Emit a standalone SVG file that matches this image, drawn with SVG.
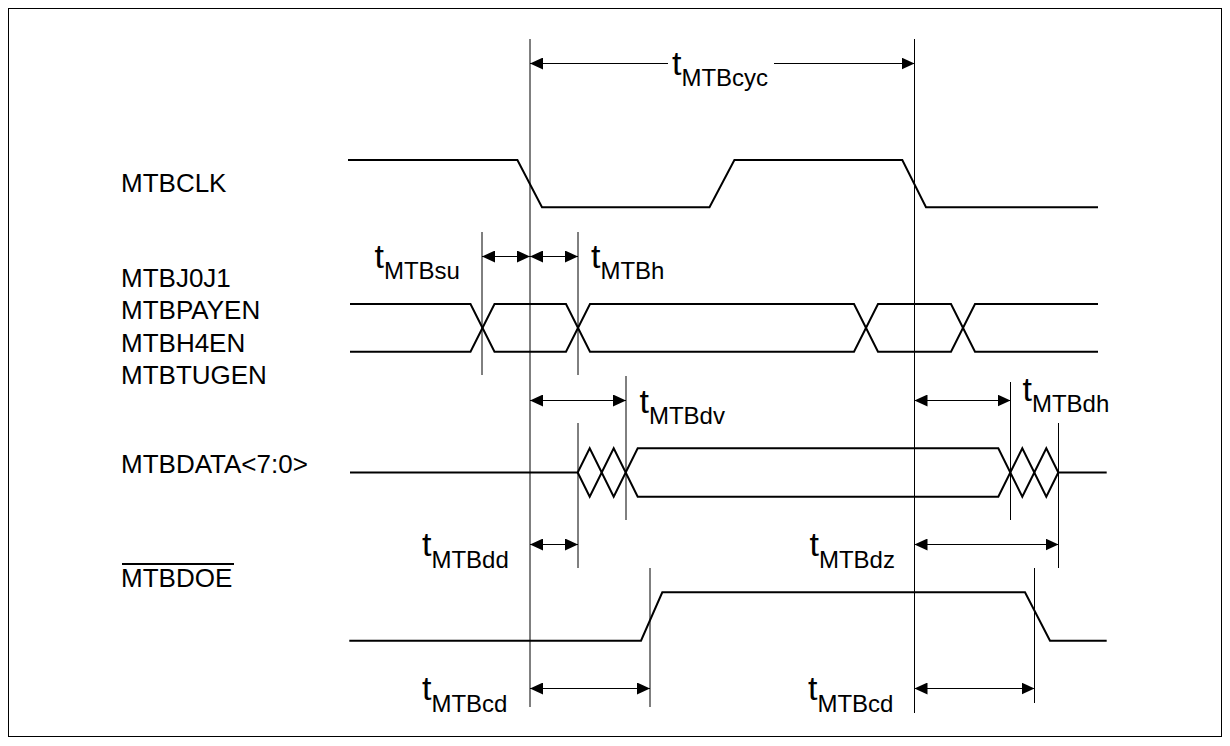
<svg xmlns="http://www.w3.org/2000/svg" width="1230" height="746" viewBox="0 0 1230 746">
<style>
.lbl{font-family:"Liberation Sans",Arial,sans-serif;font-size:26px;fill:#000}
.tm{font-family:"Liberation Sans",Arial,sans-serif;font-size:34px;fill:#000}
.sub{font-size:24px}
.sig{fill:none;stroke:#000;stroke-width:2;stroke-linejoin:miter}
.ref{stroke:#000;stroke-width:1;fill:none}
.dim{stroke:#000;stroke-width:1;fill:none;marker-start:url(#ah);marker-end:url(#ah)}
</style>
<defs>
<marker id="ah" viewBox="0 0 13 12" refX="13" refY="6" markerWidth="13" markerHeight="12" markerUnits="userSpaceOnUse" orient="auto-start-reverse">
<path d="M0,0 L13,6 L0,12 Z" fill="#000"/>
</marker>
</defs>
<rect x="8.5" y="8.5" width="1213" height="728" fill="#fff" stroke="#000" stroke-width="1"/>

<g id="refs">
<line class="ref" x1="530" y1="39" x2="530" y2="707"/>
<line class="ref" x1="914.5" y1="39" x2="914.5" y2="713"/>
<line class="ref" x1="482" y1="232" x2="482" y2="375"/>
<line class="ref" x1="578" y1="232" x2="578" y2="375"/>
<line class="ref" x1="626" y1="376" x2="626" y2="520"/>
<line class="ref" x1="578" y1="423" x2="578" y2="568"/>
<line class="ref" x1="650" y1="568" x2="650" y2="707"/>
<line class="ref" x1="1010.5" y1="382" x2="1010.5" y2="520"/>
<line class="ref" x1="1058.5" y1="423" x2="1058.5" y2="568"/>
<line class="ref" x1="1034.5" y1="568" x2="1034.5" y2="703"/>
</g>

<g id="connectors">
<line class="dim" x1="530" y1="63.5" x2="668" y2="63.5" style="marker-end:none"/>
<line class="dim" x1="774" y1="63.5" x2="914.5" y2="63.5" style="marker-start:none"/>
<line class="dim" x1="482" y1="256.5" x2="530" y2="256.5"/>
<line class="dim" x1="530" y1="256.5" x2="578" y2="256.5"/>
<line class="dim" x1="530" y1="400.5" x2="626" y2="400.5"/>
<line class="dim" x1="914.5" y1="400.5" x2="1010.5" y2="400.5"/>
<line class="dim" x1="530" y1="544.5" x2="578" y2="544.5"/>
<line class="dim" x1="914.5" y1="544.5" x2="1058.5" y2="544.5"/>
<line class="dim" x1="530" y1="688.5" x2="650" y2="688.5"/>
<line class="dim" x1="914.5" y1="688.5" x2="1034.5" y2="688.5"/>
</g>

<g id="node-mtbclk">
<text class="lbl" x="121" y="192.3">MTBCLK</text>
<polyline class="sig" points="348,160 517.4,160 542,207.3 709.5,207.3 734.4,160 902.3,160 926,207.3 1098,207.3"/>
</g>

<g id="node-mtbj0j1">
<text class="lbl" x="121" y="286.7">MTBJ0J1</text>
<text class="lbl" x="121" y="319.3">MTBPAYEN</text>
<text class="lbl" x="121" y="351.7">MTBH4EN</text>
<text class="lbl" x="121" y="384">MTBTUGEN</text>
<polyline class="sig" points="350,304 470.5,304 494.5,351.7 566,351.7 590,304 854,304 878,351.7 951,351.7 975,304 1098,304"/>
<polyline class="sig" points="350,351.7 470.5,351.7 494.5,304 566,304 590,351.7 854,351.7 878,304 951,304 975,351.7 1098,351.7"/>
</g>

<g id="node-mtbdata">
<text class="lbl" x="121" y="472.7">MTBDATA&lt;7:0&gt;</text>
<polyline class="sig" points="350,472.5 577.7,472.5 589.7,448.3 601.7,472.5 613.7,448.3 625.7,472.5 637.7,448.3 998.3,448.3 1010.3,472.5 1022.3,448.3 1034.3,472.5 1046.3,448.3 1058.3,472.5 1106.7,472.5"/>
<polyline class="sig" points="577.7,472.5 589.7,496.7 601.7,472.5 613.7,496.7 625.7,472.5 637.7,496.7 998.3,496.7 1010.3,472.5 1022.3,496.7 1034.3,472.5 1046.3,496.7 1058.3,472.5"/>
</g>

<g id="node-mtbdoe">
<text class="lbl" x="121" y="587">MTBDOE</text>
<line x1="122" y1="564" x2="234" y2="564" stroke="#000" stroke-width="2"/>
<polyline class="sig" points="349.3,640.7 641,640.7 662.3,592.3 1025,592.3 1050,640.7 1106.7,640.7"/>
</g>

<g id="labels">
<text class="tm" x="672" y="75">t<tspan class="sub" dy="11">MTBcyc</tspan></text>
<text class="tm" x="374.5" y="267.5">t<tspan class="sub" dy="11.8">MTBsu</tspan></text>
<text class="tm" x="591" y="267.5">t<tspan class="sub" dy="11.8">MTBh</tspan></text>
<text class="tm" x="639.5" y="412.5">t<tspan class="sub" dy="11.8">MTBdv</tspan></text>
<text class="tm" x="1022.5" y="400.5">t<tspan class="sub" dy="11.5">MTBdh</tspan></text>
<text class="tm" x="422" y="556">t<tspan class="sub" dy="11.7">MTBdd</tspan></text>
<text class="tm" x="809.5" y="556">t<tspan class="sub" dy="11.7">MTBdz</tspan></text>
<text class="tm" x="422" y="700">t<tspan class="sub" dy="11.7">MTBcd</tspan></text>
<text class="tm" x="808" y="700">t<tspan class="sub" dy="11.7">MTBcd</tspan></text>
</g>
</svg>
